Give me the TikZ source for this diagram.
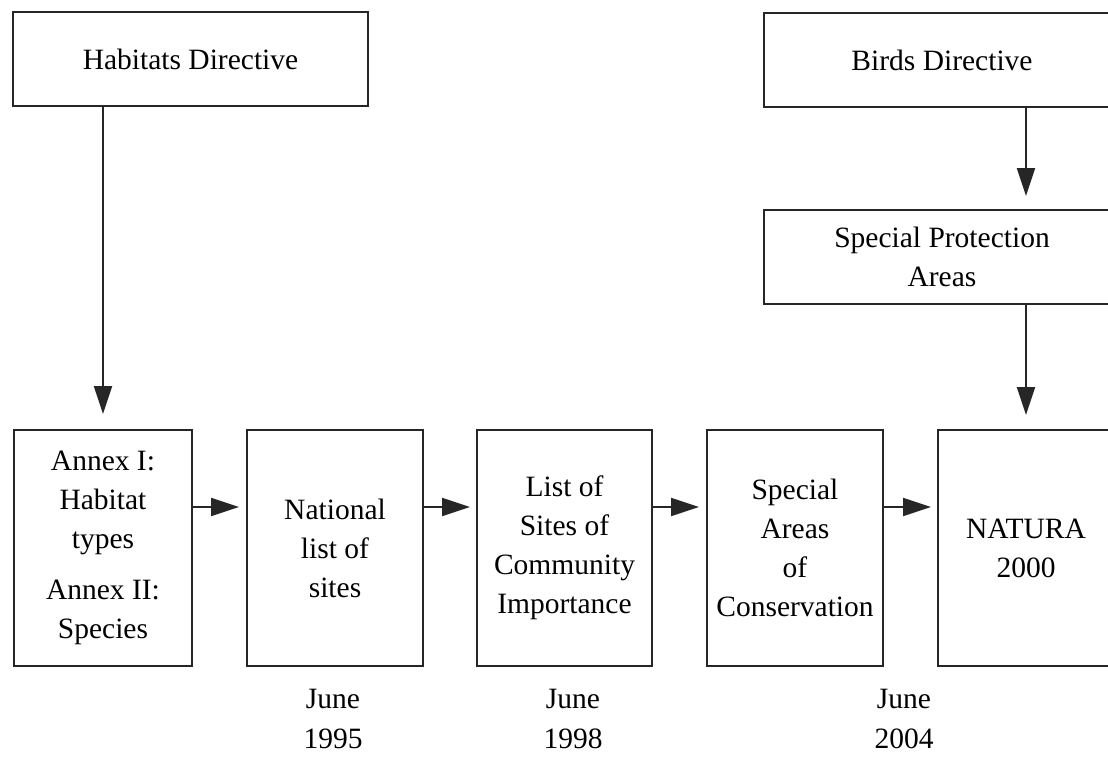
\documentclass[tikz,border=0pt]{standalone}
\usepackage{fontspec}
\setmainfont{Liberation Serif}
\usetikzlibrary{arrows.meta}
\begin{document}
\begin{tikzpicture}[x=0.5pt,y=-0.5pt,
  box/.style={draw=black!85,line width=1pt,rectangle,inner sep=0pt,align=center,
    font=\fontsize{14.75pt}{19.5pt}\selectfont},
  arr/.style={draw=black!85,line width=1pt,-{Triangle[length=14pt,width=9pt]}},
  datelbl/.style={align=center,inner sep=0pt,font=\fontsize{14.75pt}{20pt}\selectfont}]
\useasboundingbox (0,0) rectangle (1108,756);
\fill[white] (0,0) rectangle (1108,756);
% top boxes
\node[box,minimum width=355*0.5pt,minimum height=94*0.5pt] (hab) at (190.5,59) {Habitats Directive};
\node[box,minimum width=356*0.5pt,minimum height=94*0.5pt] (birds) at (942,60) {Birds Directive};
\node[box,minimum width=356*0.5pt,minimum height=94*0.5pt] (spa) at (942,257) {Special Protection\\Areas};
% bottom boxes
\node[box,minimum width=178*0.5pt,minimum height=236*0.5pt] (b1) at (103,548) {Annex I:\\Habitat\\types\\[6pt]Annex II:\\Species};
\node[box,minimum width=176*0.5pt,minimum height=236*0.5pt] (b2) at (335,548) {National\\list of\\sites};
\node[box,minimum width=175*0.5pt,minimum height=236*0.5pt] (b3) at (564.5,548) {List of\\Sites of\\Community\\Importance};
\node[box,minimum width=176*0.5pt,minimum height=236*0.5pt] (b4) at (795,548) {Special\\Areas\\of\\Conservation};
\node[box,minimum width=176*0.5pt,minimum height=236*0.5pt] (b5) at (1026,548) {NATURA\\2000};
% dates
\node[datelbl] (d1) at (333,719) {June\\1995};
\node[datelbl] (d2) at (573,719) {June\\1998};
\node[datelbl] (d3) at (904,719) {June\\2004};
% connectors
\coordinate (ah) at (0,507);
\draw[arr,shorten >=7.5pt] (b1.north |- hab.south) -- (b1.north);
\draw[arr,shorten >=6.5pt] (b5.north |- birds.south) -- (b5.north |- spa.north);
\draw[arr,shorten >=7pt] (b5.north |- spa.south) -- (b5.north);
\draw[arr,shorten >=3.5pt] (b1.east |- ah) -- (b2.west |- ah);
\draw[arr,shorten >=3pt] (b2.east |- ah) -- (b3.west |- ah);
\draw[arr,shorten >=3.5pt] (b3.east |- ah) -- (b4.west |- ah);
\draw[arr,shorten >=3pt] (b4.east |- ah) -- (b5.west |- ah);
\end{tikzpicture}
\end{document}
